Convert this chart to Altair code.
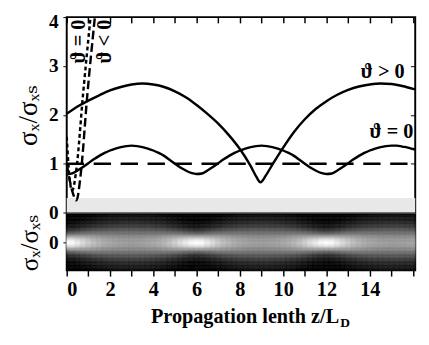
import math
import altair as alt
import pandas as pd

# ---------------- data ----------------
# theta = 0 curve, sampled every 0.25 z/L_D
z0_grid = [i * 0.25 for i in range(65)] + [16.1]
theta0 = [0.78, 0.80, 0.86, 0.93, 1.01, 1.09, 1.16, 1.22, 1.27, 1.31, 1.34, 1.36, 1.37,
          1.36, 1.34, 1.31, 1.27, 1.22, 1.16, 1.08, 1.00, 0.92, 0.86, 0.81, 0.79,
          0.80, 0.86, 0.93, 1.01, 1.09, 1.16, 1.22, 1.27, 1.31, 1.34, 1.36, 1.37,
          1.36, 1.34, 1.31, 1.27, 1.22, 1.16, 1.08, 1.00, 0.92, 0.86, 0.81, 0.79,
          0.80, 0.86, 0.93, 1.01, 1.09, 1.16, 1.22, 1.27, 1.31, 1.34, 1.36, 1.37,
          1.37, 1.35, 1.33, 1.30, 1.29]

# theta > 0 curve
zpos = [0, 0.5, 1.0, 1.5, 2.0, 2.5, 3.0, 3.5, 4.0, 4.5, 5.0, 5.5, 6.0, 6.5, 7.0, 7.5,
        8.0, 8.5, 8.75, 8.95, 9.2, 9.5, 10.0, 10.5, 11.0, 11.5, 12.0, 12.5, 13.0,
        13.5, 14.0, 14.5, 15.0, 15.5, 16.0, 16.1]
thetapos = [2.02, 2.17, 2.29, 2.40, 2.50, 2.57, 2.62, 2.64, 2.62, 2.57, 2.48, 2.36,
            2.20, 2.02, 1.82, 1.58, 1.30, 0.95, 0.74, 0.62, 0.76, 0.98, 1.33, 1.65,
            1.91, 2.12, 2.28, 2.41, 2.51, 2.58, 2.62, 2.64, 2.63, 2.59, 2.53, 2.52]

# steep linear-diffraction curves near z = 0
zdot = [0, 0.12, 0.25, 0.45, 0.75, 1.1]
ydot = [1.55, 0.75, 0.45, 0.9, 2.4, 4.0]
zdash = [0, 0.25, 0.45, 0.65, 0.95, 1.3]
ydash = [1.0, 0.45, 0.25, 0.8, 2.4, 4.0]

# reference level and shaded band
ref_z = [0, 16.1]
ref_y = [1, 1]
band_lo, band_hi = [0], [0.3]

# curve labels
lab_text = ["ϑ > 0", "ϑ = 0"]
lab_z = [14.6, 15.0]
lab_y = [2.88, 1.64]
rot_text = ["ϑ = 0", "ϑ < 0"]
rot_z = [0.58, 1.8]
rot_y = [3.5, 3.5]

X_DOM = [0, 16.1]
W, H_TOP, H_BOT = 362, 203, 58
FONT = "Times New Roman, Liberation Serif, DejaVu Serif, serif"

xs = alt.Scale(domain=X_DOM, nice=False, zero=False)
ys = alt.Scale(domain=[0, 4], nice=False, zero=False)

ax_bottom = alt.Axis(orient="bottom", values=list(range(17)), labels=False, tickSize=6,
                     offset=-6, domain=False, grid=False, title=None, tickColor="black",
                     tickWidth=1.5)
ax_top = alt.Axis(orient="top", values=list(range(17)), labels=False, tickSize=6,
                  offset=-6, domain=False, grid=False, title=None, tickColor="black",
                  tickWidth=1.5)
ax_left = alt.Axis(orient="left", values=[0, 1, 2, 3, 4], labelFont=FONT,
                   labelFontWeight="bold", labelFontSize=20, labelColor="black",
                   labelOffset={"condition": {"test": "datum.value === 4", "value": 5},
                                "value": 0},
                   tickSize=4, tickColor="black", domain=False, grid=False,
                   labelPadding=5, title="σₓ/σₓₛ", titleFont=FONT, titleFontSize=28,
                   titleFontWeight="normal", titleColor="black", titlePadding=6)
ax_right = alt.Axis(orient="right", values=[1, 2, 3], labels=False, tickSize=5,
                    offset=-5, domain=False, grid=False, title=None, tickColor="black")

band = alt.Chart(pd.DataFrame({"a": [X_DOM[0]], "b": [X_DOM[1]], "lo": band_lo,
                               "hi": band_hi})).mark_rect(color="#e8e8e8").encode(
    x=alt.X("a:Q", scale=xs, axis=ax_top),
    x2="b:Q",
    y=alt.Y("lo:Q", scale=ys, axis=ax_right),
    y2="hi:Q",
)

line_pos = alt.Chart(pd.DataFrame({"z": zpos, "s": thetapos})).mark_line(
    color="black", strokeWidth=2.5, interpolate="monotone").encode(
    x=alt.X("z:Q", scale=xs, axis=ax_bottom),
    y=alt.Y("s:Q", scale=ys, axis=ax_left),
)

line_0 = alt.Chart(pd.DataFrame({"z": z0_grid, "s": theta0})).mark_line(
    color="black", strokeWidth=2.5, interpolate="monotone").encode(
    x=alt.X("z:Q", scale=xs, axis=None),
    y=alt.Y("s:Q", scale=ys, axis=None),
)

ref = alt.Chart(pd.DataFrame({"z": ref_z, "s": ref_y})).mark_line(
    color="black", strokeWidth=2.5, strokeDash=[18, 10]).encode(
    x=alt.X("z:Q", scale=xs, axis=None),
    y=alt.Y("s:Q", scale=ys, axis=None),
)

dot = alt.Chart(pd.DataFrame({"z": zdot, "s": ydot})).mark_line(
    color="black", strokeWidth=2.5, strokeDash=[4, 3], clip=True,
    interpolate="monotone").encode(
    x=alt.X("z:Q", scale=xs, axis=None),
    y=alt.Y("s:Q", scale=ys, axis=None),
)

dash = alt.Chart(pd.DataFrame({"z": zdash, "s": ydash})).mark_line(
    color="black", strokeWidth=2.5, strokeDash=[9, 4], clip=True,
    interpolate="monotone").encode(
    x=alt.X("z:Q", scale=xs, axis=None),
    y=alt.Y("s:Q", scale=ys, axis=None),
)

labels = alt.Chart(pd.DataFrame({"t": lab_text, "z": lab_z, "s": lab_y})).mark_text(
    font=FONT, fontSize=21, fontWeight="bold", color="black").encode(
    x=alt.X("z:Q", scale=xs, axis=None),
    y=alt.Y("s:Q", scale=ys, axis=None),
    text="t:N",
)

rot_labels = alt.Chart(pd.DataFrame({"t": rot_text, "z": rot_z, "s": rot_y})).mark_text(
    font=FONT, fontSize=21, fontWeight="bold", color="black", angle=270).encode(
    x=alt.X("z:Q", scale=xs, axis=None),
    y=alt.Y("s:Q", scale=ys, axis=None),
    text="t:N",
)

top = alt.layer(band, line_pos, line_0, ref, dot, dash, labels, rot_labels).resolve_axis(
    x="independent", y="independent").properties(width=W, height=H_TOP)

# ---------------- heat map of the beam (theta = 0) ----------------
edges = [X_DOM[0]] + [(z0_grid[i] + z0_grid[i + 1]) / 2 for i in range(len(z0_grid) - 1)] + [X_DOM[1]]
ybins = [-1 + 0.05 * j for j in range(40)]
rows = []
for i, s in enumerate(theta0):
    g = 0.32 * s
    amp = (0.78 / s) ** 0.8
    for y0 in ybins:
        yc = y0 + 0.025
        rows.append({"x0": edges[i], "x1": edges[i + 1], "y0": y0, "y1": y0 + 0.05,
                     "v": amp * math.exp(-yc * yc / (2 * g * g))})
heat_df = pd.DataFrame(rows)

gray = alt.Scale(domain=[0, 1], range=["black", "white"], clamp=True)
heat = alt.Chart(heat_df).mark_rect(strokeWidth=0.6).encode(
    x=alt.X("x0:Q", scale=xs, axis=alt.Axis(
        orient="bottom", values=list(range(17)),
        labelExpr="datum.value % 2 == 0 && datum.value < 16 ? datum.label : ''",
        labelFont=FONT, labelFontWeight="bold", labelFontSize=21, labelColor="black",
        tickSize=6, tickColor="black", tickWidth=1.5, domain=False, grid=False,
        labelPadding=3, title=None)),
    x2="x1:Q",
    y=alt.Y("y0:Q", scale=alt.Scale(domain=[-1, 1], nice=False, zero=False), axis=alt.Axis(
        orient="left", values=[0], labelFont=FONT, labelFontWeight="bold",
        labelFontSize=20, labelColor="black", tickSize=4, tickColor="black",
        domain=False, grid=False, labelPadding=5, title="σₓ/σₓₛ", titleFont=FONT,
        titleFontSize=26, titleFontWeight="normal", titleColor="black", titlePadding=6)),
    y2="y1:Q",
    fill=alt.Color("v:Q", scale=gray, legend=None),
    stroke=alt.Color("v:Q", scale=gray, legend=None),
)

title_main = alt.Chart(pd.DataFrame({"t": ["Propagation lenth  z/L"]})).mark_text(
    font=FONT, fontSize=21, fontWeight="bold", color="black", align="right",
    baseline="alphabetic").encode(
    x=alt.value(283), y=alt.value(113), text="t:N")
title_sub = alt.Chart(pd.DataFrame({"t": ["D"]})).mark_text(
    font=FONT, fontSize=14, fontWeight="bold", color="black", align="left",
    baseline="alphabetic").encode(
    x=alt.value(284), y=alt.value(117), text="t:N")

bottom = alt.layer(heat, title_main, title_sub).properties(width=W, height=H_BOT)

chart = alt.vconcat(top, bottom, spacing=2, bounds="flush").configure_view(
    stroke="black", strokeWidth=2).properties(
    padding={"left": 7, "top": -3, "right": 0, "bottom": 5})

chart.save("out.html", embed_options={"renderer": "svg", "actions": False})
